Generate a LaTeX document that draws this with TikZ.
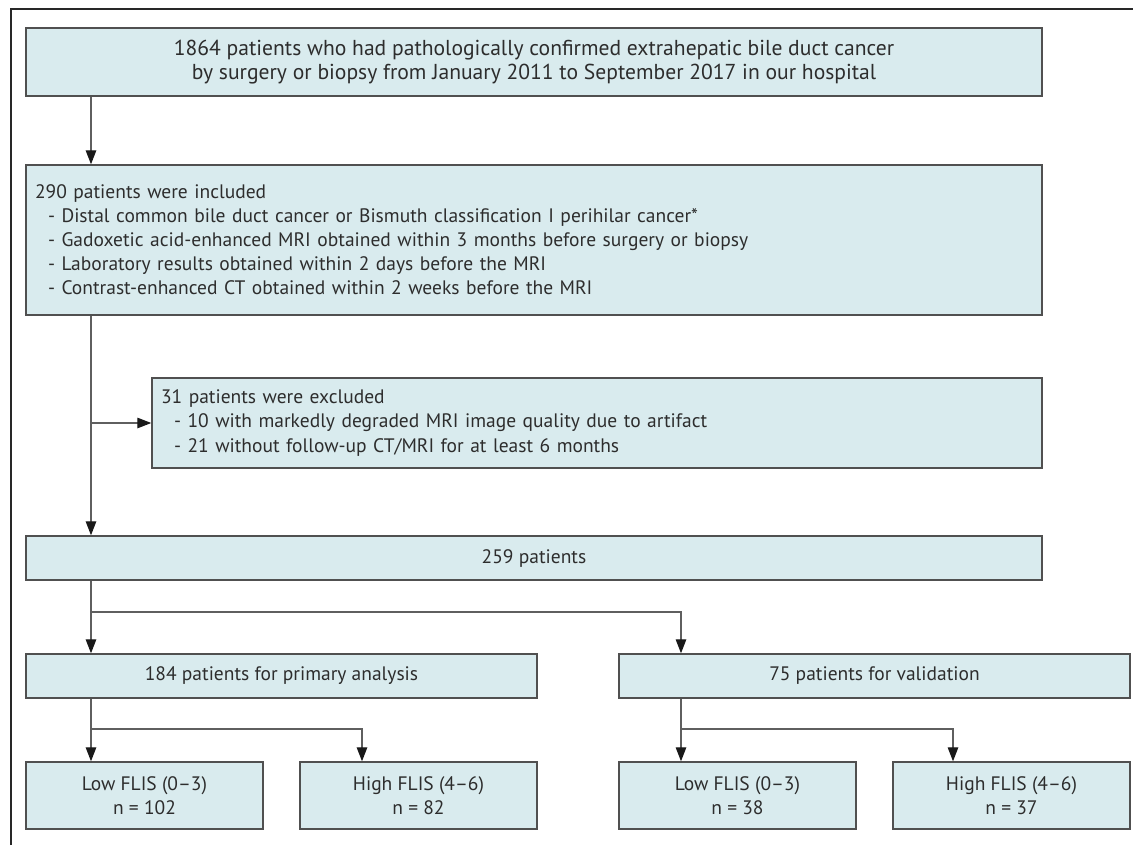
\documentclass[tikz,border=0pt]{standalone}
\usepackage{fontspec}
\setmainfont{PT Sans}
\usetikzlibrary{arrows.meta}
\tikzset{every picture/.style={line width=0.75pt}}
\definecolor{boxfill}{RGB}{217,235,238}
\definecolor{boxline}{RGB}{80,80,80}
\definecolor{flowline}{RGB}{95,95,95}
\definecolor{frameline}{RGB}{40,40,40}
\definecolor{boxtext}{RGB}{45,45,45}

\begin{document}
\begin{tikzpicture}[
    x=1pt, y=1pt,
    stage/.style={
        rectangle, draw=boxline, fill=boxfill, line width=1.4pt,
        inner sep=0pt, align=center, text=boxtext,
        font=\fontsize{19.5}{24}\selectfont
    },
    listbox/.style={
        stage, align=left, inner xsep=9pt
    },
    flow/.style={
        draw=flowline, line width=1.3pt,
        -{Triangle[length=14pt, width=10.5pt, color=black!90]}
    },
]

\def\B{13pt}  % indent of the list items

\useasboundingbox (0,0) rectangle (1134,-846);

%% ===================== FRAME =====================
\draw[frameline, line width=1.3pt] (11,-845) -- (11,-9) -- (1133,-9);

%% ===================== BOXES =====================
\node[stage, minimum width=1016, minimum height=68,
      font=\fontsize{21.6}{24.5}\selectfont] (cohort) at (534,-62)
  {1864 patients who had pathologically confirmed extrahepatic bile duct cancer\\
   by surgery or biopsy from January 2011 to September 2017 in our hospital};

\node[listbox, minimum width=1016, minimum height=150, text width=998] (incl) at (534,-240)
  {290 patients were included\\
   \hspace*{\B}- Distal common bile duct cancer or Bismuth classification I perihilar cancer*\\
   \hspace*{\B}- Gadoxetic acid-enhanced MRI obtained within 3 months before surgery or biopsy\\
   \hspace*{\B}- Laboratory results obtained within 2 days before the MRI\\
   \hspace*{\B}- Contrast-enhanced CT obtained within 2 weeks before the MRI};

\node[listbox, minimum width=890, minimum height=90, text width=872] (excl) at (597,-423)
  {31 patients were excluded\\
   \hspace*{\B}- 10 with markedly degraded MRI image quality due to artifact\\
   \hspace*{\B}- 21 without follow-up CT/MRI for at least 6 months};

\node[stage, minimum width=1016, minimum height=44] (final) at (534,-558) {259 patients};

\node[stage, minimum width=511, minimum height=44] (prim) at (281.5,-676)
  {184 patients for primary analysis};
\node[stage, minimum width=511, minimum height=44] (valid) at (874.5,-676)
  {75 patients for validation};

\node[stage, minimum width=237, minimum height=67] (lowP) at (144.5,-795.5)
  {Low FLIS (0--3)\\n = 102};
\node[stage, minimum width=237, minimum height=67] (highP) at (418.5,-795.5)
  {High FLIS (4--6)\\n = 82};
\node[stage, minimum width=237, minimum height=67] (lowV) at (737.5,-795.5)
  {Low FLIS (0--3)\\n = 38};
\node[stage, minimum width=237, minimum height=67] (highV) at (1011.5,-795.5)
  {High FLIS (4--6)\\n = 37};

%% ===================== CONNECTORS =====================
\coordinate (trunk) at (91,0);      % main vertical line
\coordinate (pside) at (362,0);     % high FLIS, primary
\coordinate (vside) at (681,0);     % validation column
\coordinate (vhigh) at (953,0);     % high FLIS, validation

\draw[flow] (cohort.south -| trunk) -- (incl.north -| trunk);
\draw[flow] (incl.south -| trunk) -- (final.north -| trunk);
\draw[flow] (excl.west -| trunk) -- (excl.west);

% split into primary / validation
\coordinate (split) at (91,-612);
\draw[flow] (final.south -| trunk) -- (prim.north -| trunk);
\draw[flow] (split) -| (valid.north -| vside);

% split by FLIS
\coordinate (psplit) at (91,-729);
\draw[flow] (prim.south -| trunk) -- (lowP.north -| trunk);
\draw[flow] (psplit) -| (highP.north -| pside);

\coordinate (vsplit) at (681,-729);
\draw[flow] (valid.south -| vside) -- (lowV.north -| vside);
\draw[flow] (vsplit) -| (highV.north -| vhigh);

\end{tikzpicture}
\end{document}
